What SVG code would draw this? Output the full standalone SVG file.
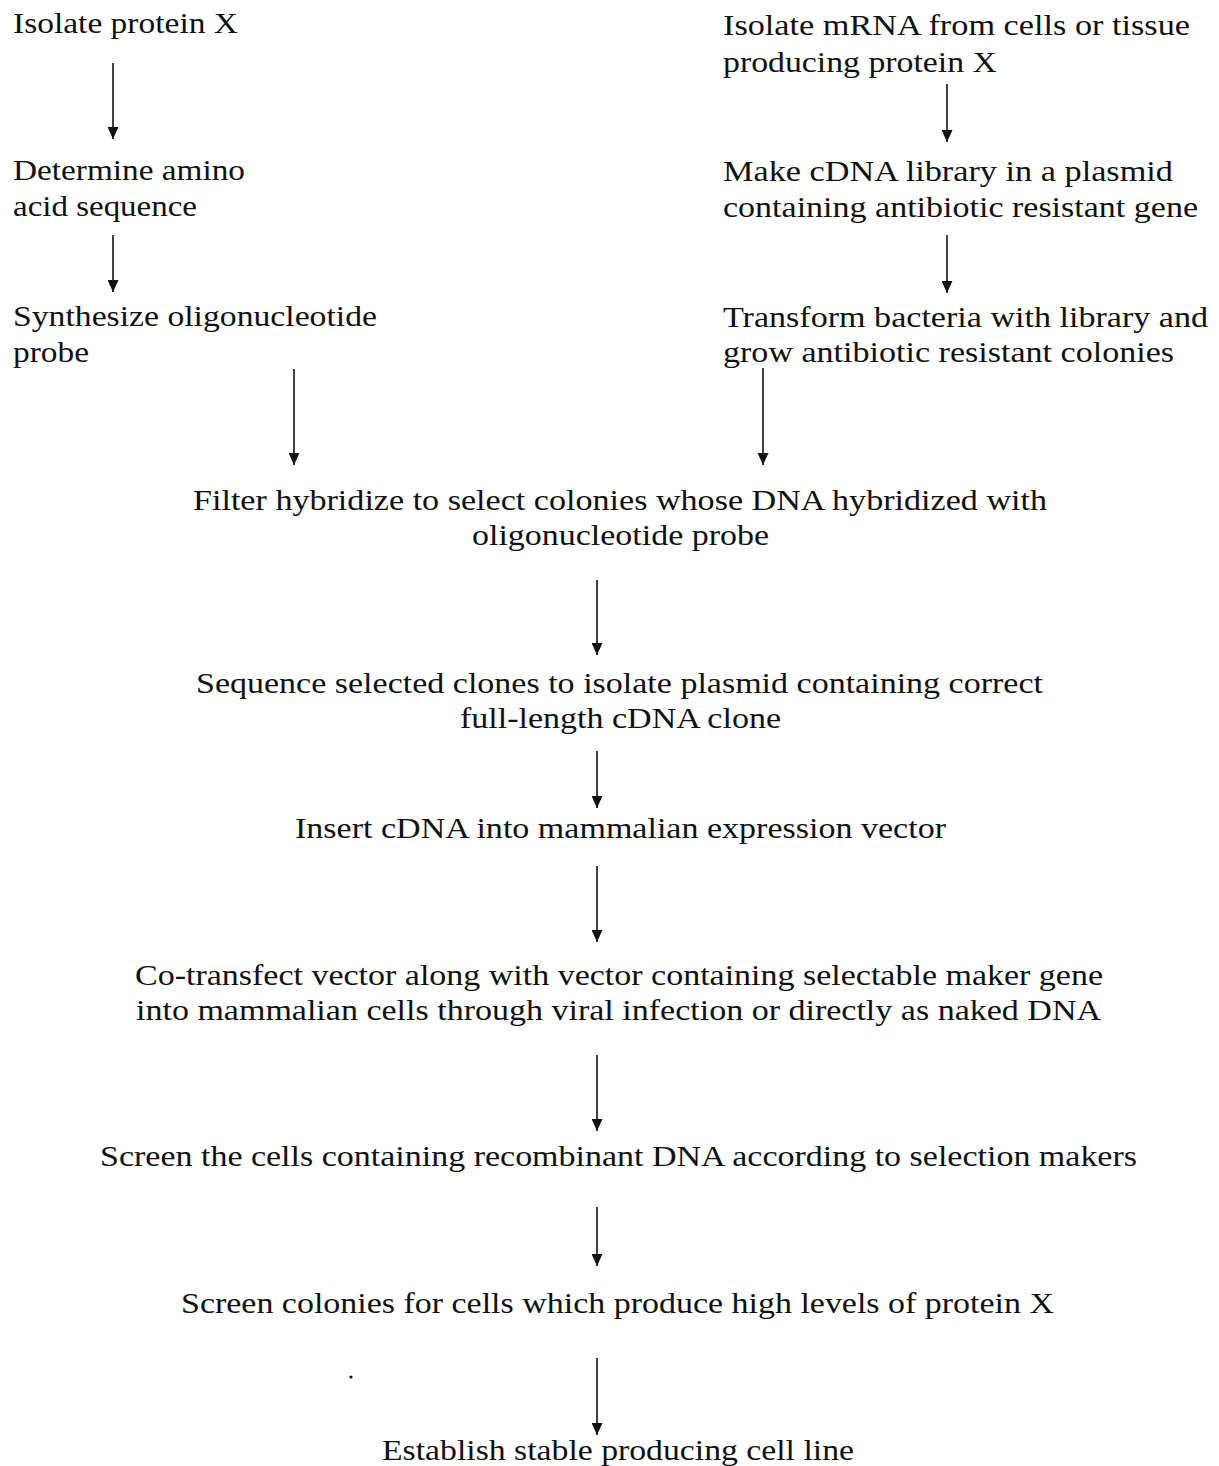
<svg xmlns="http://www.w3.org/2000/svg" width="1219" height="1466" viewBox="0 0 1219 1466">
<style>
text{font-family:"Liberation Serif","Times New Roman",serif;font-size:30px;fill:#111}
.c line{stroke:#111;stroke-width:1.6;marker-end:url(#ah)}
</style>
<defs>
<marker id="ah" markerUnits="userSpaceOnUse" markerWidth="12" markerHeight="11" refX="12" refY="5.5" orient="auto" viewBox="0 0 12 11">
<path d="M0,0 L12,5.5 L0,11 Z" fill="#111"/>
</marker>
</defs>
<rect width="1219" height="1466" fill="#fff"/>
<g id="n1"><text x="13" y="33" textLength="225" lengthAdjust="spacingAndGlyphs">Isolate protein X</text></g>
<g id="n2"><text x="723" y="35" textLength="467" lengthAdjust="spacingAndGlyphs">Isolate mRNA from cells or tissue</text><text x="723" y="72" textLength="274" lengthAdjust="spacingAndGlyphs">producing protein X</text></g>
<g id="n3"><text x="13" y="180" textLength="232" lengthAdjust="spacingAndGlyphs">Determine amino</text><text x="13" y="216" textLength="184" lengthAdjust="spacingAndGlyphs">acid sequence</text></g>
<g id="n4"><text x="723" y="181" textLength="450" lengthAdjust="spacingAndGlyphs">Make cDNA library in a plasmid</text><text x="723" y="217" textLength="475" lengthAdjust="spacingAndGlyphs">containing antibiotic resistant gene</text></g>
<g id="n5"><text x="13" y="326" textLength="364" lengthAdjust="spacingAndGlyphs">Synthesize oligonucleotide</text><text x="13" y="362" textLength="76" lengthAdjust="spacingAndGlyphs">probe</text></g>
<g id="n6"><text x="723" y="327" textLength="485" lengthAdjust="spacingAndGlyphs">Transform bacteria with library and</text><text x="723" y="362" textLength="451" lengthAdjust="spacingAndGlyphs">grow antibiotic resistant colonies</text></g>
<g id="n7"><text x="193" y="510" textLength="854" lengthAdjust="spacingAndGlyphs">Filter hybridize to select colonies whose DNA hybridized with</text><text x="472" y="545" textLength="297" lengthAdjust="spacingAndGlyphs">oligonucleotide probe</text></g>
<g id="n8"><text x="196" y="693" textLength="847" lengthAdjust="spacingAndGlyphs">Sequence selected clones to isolate plasmid containing correct</text><text x="460" y="728" textLength="321" lengthAdjust="spacingAndGlyphs">full-length cDNA clone</text></g>
<g id="n9"><text x="295" y="838" textLength="651" lengthAdjust="spacingAndGlyphs">Insert cDNA into mammalian expression vector</text></g>
<g id="n10"><text x="135" y="985" textLength="968" lengthAdjust="spacingAndGlyphs">Co-transfect vector along with vector containing selectable maker gene</text><text x="136" y="1020" textLength="965" lengthAdjust="spacingAndGlyphs">into mammalian cells through viral infection or directly as naked DNA</text></g>
<g id="n11"><text x="100" y="1166" textLength="1037" lengthAdjust="spacingAndGlyphs">Screen the cells containing recombinant DNA according to selection makers</text></g>
<g id="n12"><text x="181" y="1313" textLength="873" lengthAdjust="spacingAndGlyphs">Screen colonies for cells which produce high levels of protein X</text></g>
<g id="n13"><text x="382" y="1460" textLength="472" lengthAdjust="spacingAndGlyphs">Establish stable producing cell line</text></g>
<circle cx="351" cy="1377" r="1.6" fill="#111"/>
<g id="connectors" class="c">
<line x1="113" y1="63" x2="113" y2="139"/>
<line x1="113" y1="235" x2="113" y2="292"/>
<line x1="294" y1="369" x2="294" y2="465"/>
<line x1="947" y1="84" x2="947" y2="142"/>
<line x1="947" y1="235" x2="947" y2="293"/>
<line x1="763" y1="368" x2="763" y2="465"/>
<line x1="597" y1="580" x2="597" y2="655"/>
<line x1="597" y1="751" x2="597" y2="808"/>
<line x1="597" y1="866" x2="597" y2="942"/>
<line x1="597" y1="1055" x2="597" y2="1131"/>
<line x1="597" y1="1207" x2="597" y2="1266"/>
<line x1="597" y1="1358" x2="597" y2="1435"/>
</g>
</svg>
